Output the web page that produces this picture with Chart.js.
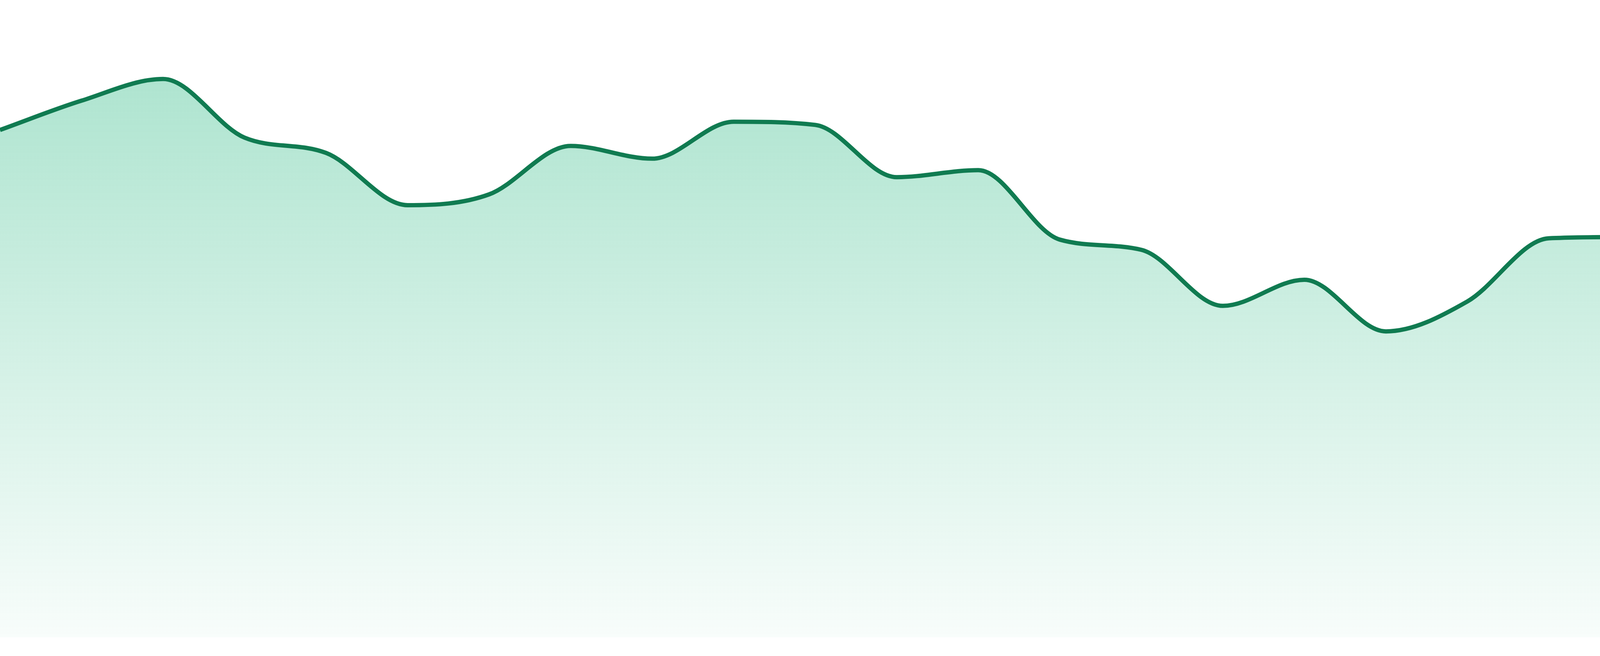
<!DOCTYPE html>
<html lang="en">
<head>
    <meta charset="UTF-8">
    <title>Area chart</title>
    <script src="https://cdn.jsdelivr.net/npm/chart.js"></script>
    <style>
        html, body { margin: 0; padding: 0; background: #fff; }
        .chart-container { width: 4800px; height: 1680px; position: relative; }
    </style>
</head>
<body>
    <div class="chart-container">
        <canvas id="areaChart"></canvas>
    </div>

    <script>
        // 24 periods, no visible labels in the picture
        const labels = ['1', '2', '3', '4', '5', '6', '7', '8', '9', '10', '11', '12',
                        '13', '14', '15', '16', '17', '18', '19', '20', '21', '22', '23', '24'];

        const values = [79.6, 84.2, 87.6, 78.4, 76.0, 67.8, 69.5, 77.1, 75.1, 80.9, 80.4, 72.2,
                        73.3, 62.4, 60.8, 52.0, 56.1, 48.0, 52.7, 62.6, 62.8, 56.4, 50.6, 52.0];

        const yMin = 0;
        const yMax = 100;

        const lineColor = '#107b51';

        // fading green fill, built once the chart area is known
        function fillGradient(context) {
            const area = context.chart.chartArea;
            if (!area) return 'rgba(30, 180, 120, 0.3)';
            const g = context.chart.ctx.createLinearGradient(0, area.top, 0, area.bottom);
            g.addColorStop(0, 'rgba(28, 180, 122, 0.4)');
            g.addColorStop(1, 'rgba(28, 180, 122, 0.03)');
            return g;
        }

        new Chart(document.getElementById('areaChart'), {
            type: 'line',
            data: {
                labels: labels,
                datasets: [{
                    data: values,
                    borderColor: lineColor,
                    borderWidth: 11,
                    backgroundColor: fillGradient,
                    fill: 'start',
                    cubicInterpolationMode: 'monotone',
                    pointRadius: 0
                }]
            },
            options: {
                responsive: true,
                maintainAspectRatio: false,
                animation: false,
                layout: { padding: { left: 0, right: 0, top: 0, bottom: 48 } },
                plugins: {
                    legend: { display: false },
                    tooltip: { enabled: false }
                },
                scales: {
                    x: { display: false, offset: false },
                    y: { display: false, min: yMin, max: yMax }
                }
            }
        });
    </script>
</body>
</html>
